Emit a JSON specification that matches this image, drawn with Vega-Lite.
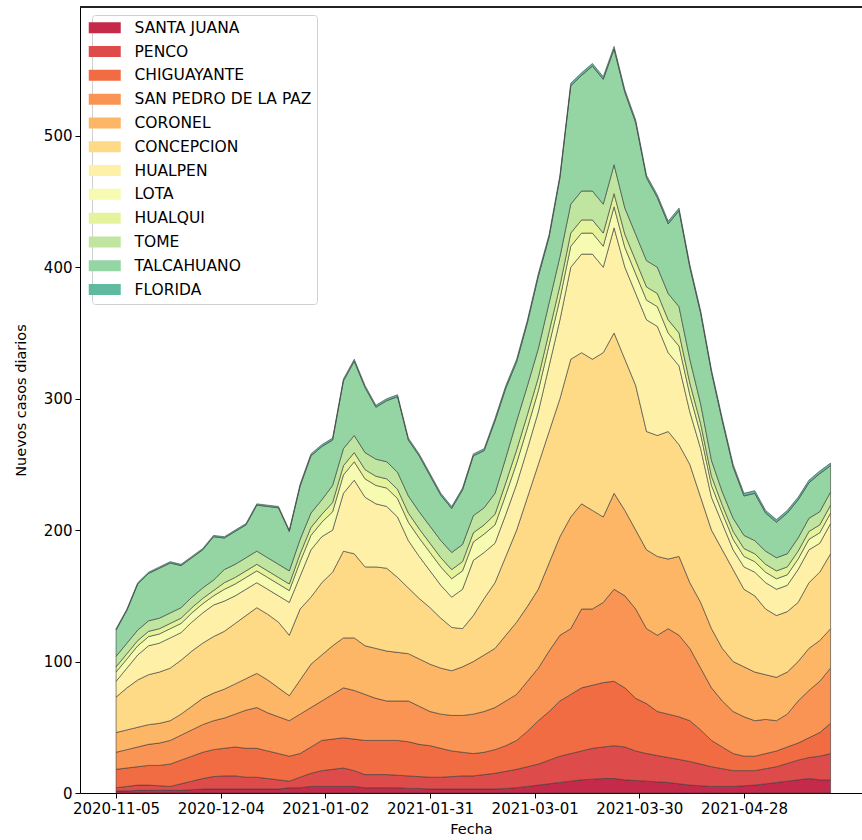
{
  "$schema": "https://vega.github.io/schema/vega-lite/v6.json",
  "width": 782,
  "height": 786,
  "autosize": {"type": "none"},
  "padding": {"left": 80, "top": 7, "right": 0, "bottom": 47},
  "background": "white",
  "config": {
    "font": "DejaVu Sans",
    "view": {"stroke": null},
    "axis": {"domainColor": "#000", "domainWidth": 1, "tickColor": "#000", "tickSize": 5, "tickWidth": 1, "labelColor": "#000", "labelFontSize": 15, "titleFontSize": 14.5, "titleFontWeight": "normal", "titleColor": "#000", "grid": false, "labelFont": "DejaVu Sans", "titleFont": "DejaVu Sans"}
  },
  "datasets": {
    "orden": [
      {"comuna": "SANTA JUANA", "orden": 1}, {"comuna": "PENCO", "orden": 2}, {"comuna": "CHIGUAYANTE", "orden": 3},
      {"comuna": "SAN PEDRO DE LA PAZ", "orden": 4}, {"comuna": "CORONEL", "orden": 5}, {"comuna": "CONCEPCION", "orden": 6},
      {"comuna": "HUALPEN", "orden": 7}, {"comuna": "LOTA", "orden": 8}, {"comuna": "HUALQUI", "orden": 9},
      {"comuna": "TOME", "orden": 10}, {"comuna": "TALCAHUANO", "orden": 11}, {"comuna": "FLORIDA", "orden": 12}
    ]
  },
  "data": {"values": [
    {"fecha":"2020-11-05","SANTA JUANA":1.5,"PENCO":2.5,"CHIGUAYANTE":14,"SAN PEDRO DE LA PAZ":13,"CORONEL":15,"CONCEPCION":27,"HUALPEN":12,"LOTA":7,"HUALQUI":4,"TOME":8,"TALCAHUANO":20,"FLORIDA":1},
    {"fecha":"2020-11-08","SANTA JUANA":1.5,"PENCO":3.5,"CHIGUAYANTE":14,"SAN PEDRO DE LA PAZ":14,"CORONEL":15,"CONCEPCION":32,"HUALPEN":15,"LOTA":7,"HUALQUI":4,"TOME":8,"TALCAHUANO":25,"FLORIDA":1},
    {"fecha":"2020-11-11","SANTA JUANA":2,"PENCO":4,"CHIGUAYANTE":14,"SAN PEDRO DE LA PAZ":15,"CORONEL":15,"CONCEPCION":36,"HUALPEN":19,"LOTA":7,"HUALQUI":4,"TOME":8,"TALCAHUANO":35,"FLORIDA":1},
    {"fecha":"2020-11-14","SANTA JUANA":2,"PENCO":4,"CHIGUAYANTE":15,"SAN PEDRO DE LA PAZ":16,"CORONEL":15,"CONCEPCION":38,"HUALPEN":22,"LOTA":7,"HUALQUI":4,"TOME":8,"TALCAHUANO":36,"FLORIDA":1},
    {"fecha":"2020-11-17","SANTA JUANA":2,"PENCO":3.5,"CHIGUAYANTE":15.5,"SAN PEDRO DE LA PAZ":17,"CORONEL":15,"CONCEPCION":39,"HUALPEN":22,"LOTA":7,"HUALQUI":4,"TOME":8,"TALCAHUANO":38,"FLORIDA":1},
    {"fecha":"2020-11-20","SANTA JUANA":2,"PENCO":3,"CHIGUAYANTE":17,"SAN PEDRO DE LA PAZ":18,"CORONEL":15,"CONCEPCION":40,"HUALPEN":23,"LOTA":7,"HUALQUI":4,"TOME":8,"TALCAHUANO":38,"FLORIDA":1},
    {"fecha":"2020-11-23","SANTA JUANA":2,"PENCO":5,"CHIGUAYANTE":18,"SAN PEDRO DE LA PAZ":19,"CORONEL":16,"CONCEPCION":41,"HUALPEN":21,"LOTA":7,"HUALQUI":4,"TOME":8,"TALCAHUANO":32,"FLORIDA":1},
    {"fecha":"2020-11-26","SANTA JUANA":2.5,"PENCO":6.5,"CHIGUAYANTE":19,"SAN PEDRO DE LA PAZ":20,"CORONEL":18,"CONCEPCION":42,"HUALPEN":22,"LOTA":7,"HUALQUI":4,"TOME":8,"TALCAHUANO":30,"FLORIDA":1},
    {"fecha":"2020-11-29","SANTA JUANA":3,"PENCO":8,"CHIGUAYANTE":20,"SAN PEDRO DE LA PAZ":21,"CORONEL":20,"CONCEPCION":42,"HUALPEN":23,"LOTA":7,"HUALQUI":4,"TOME":8,"TALCAHUANO":29,"FLORIDA":1},
    {"fecha":"2020-12-02","SANTA JUANA":3,"PENCO":9.5,"CHIGUAYANTE":20.5,"SAN PEDRO DE LA PAZ":22,"CORONEL":21,"CONCEPCION":43,"HUALPEN":24,"LOTA":7,"HUALQUI":4,"TOME":8,"TALCAHUANO":33,"FLORIDA":1},
    {"fecha":"2020-12-05","SANTA JUANA":3,"PENCO":10,"CHIGUAYANTE":21,"SAN PEDRO DE LA PAZ":23,"CORONEL":22,"CONCEPCION":44,"HUALPEN":23,"LOTA":9,"HUALQUI":5,"TOME":10,"TALCAHUANO":24,"FLORIDA":1},
    {"fecha":"2020-12-08","SANTA JUANA":3,"PENCO":10,"CHIGUAYANTE":22,"SAN PEDRO DE LA PAZ":25,"CORONEL":23,"CONCEPCION":46,"HUALPEN":21,"LOTA":9,"HUALQUI":5,"TOME":10,"TALCAHUANO":25,"FLORIDA":1},
    {"fecha":"2020-12-11","SANTA JUANA":3,"PENCO":9,"CHIGUAYANTE":22,"SAN PEDRO DE LA PAZ":29,"CORONEL":24,"CONCEPCION":48,"HUALPEN":20,"LOTA":9,"HUALQUI":5,"TOME":10,"TALCAHUANO":25,"FLORIDA":1},
    {"fecha":"2020-12-14","SANTA JUANA":3,"PENCO":9,"CHIGUAYANTE":22,"SAN PEDRO DE LA PAZ":31,"CORONEL":26,"CONCEPCION":50,"HUALPEN":19,"LOTA":9,"HUALQUI":5,"TOME":10,"TALCAHUANO":35,"FLORIDA":1},
    {"fecha":"2020-12-17","SANTA JUANA":3,"PENCO":8,"CHIGUAYANTE":21,"SAN PEDRO DE LA PAZ":29,"CORONEL":25,"CONCEPCION":50,"HUALPEN":19,"LOTA":9,"HUALQUI":5,"TOME":10,"TALCAHUANO":39,"FLORIDA":1},
    {"fecha":"2020-12-20","SANTA JUANA":3,"PENCO":7,"CHIGUAYANTE":20,"SAN PEDRO DE LA PAZ":28,"CORONEL":22,"CONCEPCION":50,"HUALPEN":20,"LOTA":9,"HUALQUI":5,"TOME":10,"TALCAHUANO":43,"FLORIDA":1},
    {"fecha":"2020-12-23","SANTA JUANA":4,"PENCO":5,"CHIGUAYANTE":19,"SAN PEDRO DE LA PAZ":27,"CORONEL":19,"CONCEPCION":46,"HUALPEN":25,"LOTA":9,"HUALQUI":5,"TOME":10,"TALCAHUANO":30,"FLORIDA":1},
    {"fecha":"2020-12-26","SANTA JUANA":4,"PENCO":8,"CHIGUAYANTE":18,"SAN PEDRO DE LA PAZ":30,"CORONEL":26,"CONCEPCION":54,"HUALPEN":25,"LOTA":11,"HUALQUI":6,"TOME":11,"TALCAHUANO":40.5,"FLORIDA":1.5},
    {"fecha":"2020-12-29","SANTA JUANA":5,"PENCO":10,"CHIGUAYANTE":20,"SAN PEDRO DE LA PAZ":30,"CORONEL":33,"CONCEPCION":51,"HUALPEN":36,"LOTA":11,"HUALQUI":6,"TOME":11,"TALCAHUANO":43.5,"FLORIDA":1.5},
    {"fecha":"2021-01-01","SANTA JUANA":5,"PENCO":12,"CHIGUAYANTE":23,"SAN PEDRO DE LA PAZ":30,"CORONEL":35,"CONCEPCION":55,"HUALPEN":35,"LOTA":11,"HUALQUI":6,"TOME":11,"TALCAHUANO":40.5,"FLORIDA":1.5},
    {"fecha":"2021-01-04","SANTA JUANA":5,"PENCO":13,"CHIGUAYANTE":23,"SAN PEDRO DE LA PAZ":34,"CORONEL":37,"CONCEPCION":56,"HUALPEN":32,"LOTA":14,"HUALQUI":7,"TOME":13,"TALCAHUANO":34.5,"FLORIDA":1.5},
    {"fecha":"2021-01-07","SANTA JUANA":5,"PENCO":14,"CHIGUAYANTE":23,"SAN PEDRO DE LA PAZ":38,"CORONEL":38,"CONCEPCION":66,"HUALPEN":44,"LOTA":14,"HUALQUI":7,"TOME":13,"TALCAHUANO":51.5,"FLORIDA":1.5},
    {"fecha":"2021-01-10","SANTA JUANA":5,"PENCO":12,"CHIGUAYANTE":24,"SAN PEDRO DE LA PAZ":37,"CORONEL":40,"CONCEPCION":64,"HUALPEN":56,"LOTA":14,"HUALQUI":7,"TOME":13,"TALCAHUANO":56.5,"FLORIDA":1.5},
    {"fecha":"2021-01-13","SANTA JUANA":4,"PENCO":10,"CHIGUAYANTE":26,"SAN PEDRO DE LA PAZ":35,"CORONEL":37,"CONCEPCION":60,"HUALPEN":53,"LOTA":14,"HUALQUI":7,"TOME":13,"TALCAHUANO":49.5,"FLORIDA":1.5},
    {"fecha":"2021-01-16","SANTA JUANA":4,"PENCO":10,"CHIGUAYANTE":26,"SAN PEDRO DE LA PAZ":32,"CORONEL":38,"CONCEPCION":62,"HUALPEN":48,"LOTA":14,"HUALQUI":7,"TOME":13,"TALCAHUANO":39.5,"FLORIDA":1.5},
    {"fecha":"2021-01-19","SANTA JUANA":4,"PENCO":10,"CHIGUAYANTE":26,"SAN PEDRO DE LA PAZ":30,"CORONEL":38,"CONCEPCION":63,"HUALPEN":47,"LOTA":14,"HUALQUI":7,"TOME":13,"TALCAHUANO":46.5,"FLORIDA":1.5},
    {"fecha":"2021-01-22","SANTA JUANA":4,"PENCO":9.5,"CHIGUAYANTE":26.5,"SAN PEDRO DE LA PAZ":30,"CORONEL":37,"CONCEPCION":57,"HUALPEN":46,"LOTA":14,"HUALQUI":7,"TOME":13,"TALCAHUANO":57.5,"FLORIDA":1.5},
    {"fecha":"2021-01-25","SANTA JUANA":3.5,"PENCO":9.5,"CHIGUAYANTE":26,"SAN PEDRO DE LA PAZ":31,"CORONEL":36,"CONCEPCION":50,"HUALPEN":36,"LOTA":14,"HUALQUI":7,"TOME":13,"TALCAHUANO":42.5,"FLORIDA":1.5},
    {"fecha":"2021-01-28","SANTA JUANA":3.5,"PENCO":9,"CHIGUAYANTE":24.5,"SAN PEDRO DE LA PAZ":29,"CORONEL":36,"CONCEPCION":46,"HUALPEN":32,"LOTA":14,"HUALQUI":7,"TOME":13,"TALCAHUANO":42.5,"FLORIDA":1.5},
    {"fecha":"2021-01-31","SANTA JUANA":3,"PENCO":9,"CHIGUAYANTE":24,"SAN PEDRO DE LA PAZ":26,"CORONEL":36,"CONCEPCION":43,"HUALPEN":28,"LOTA":14,"HUALQUI":7,"TOME":13,"TALCAHUANO":38.5,"FLORIDA":1.5},
    {"fecha":"2021-02-03","SANTA JUANA":3,"PENCO":9,"CHIGUAYANTE":22,"SAN PEDRO DE LA PAZ":26,"CORONEL":35,"CONCEPCION":38,"HUALPEN":25,"LOTA":14,"HUALQUI":7,"TOME":13,"TALCAHUANO":34.5,"FLORIDA":1.5},
    {"fecha":"2021-02-06","SANTA JUANA":3,"PENCO":9.5,"CHIGUAYANTE":19.5,"SAN PEDRO DE LA PAZ":27,"CORONEL":34,"CONCEPCION":33,"HUALPEN":23,"LOTA":14,"HUALQUI":7,"TOME":13,"TALCAHUANO":33.5,"FLORIDA":1.5},
    {"fecha":"2021-02-09","SANTA JUANA":3,"PENCO":10,"CHIGUAYANTE":18,"SAN PEDRO DE LA PAZ":28,"CORONEL":37,"CONCEPCION":29,"HUALPEN":30,"LOTA":14,"HUALQUI":7,"TOME":13,"TALCAHUANO":41.5,"FLORIDA":1.5},
    {"fecha":"2021-02-12","SANTA JUANA":3,"PENCO":10,"CHIGUAYANTE":17,"SAN PEDRO DE LA PAZ":30,"CORONEL":40,"CONCEPCION":35,"HUALPEN":42,"LOTA":14,"HUALQUI":7,"TOME":13,"TALCAHUANO":45.5,"FLORIDA":1.5},
    {"fecha":"2021-02-15","SANTA JUANA":3,"PENCO":11,"CHIGUAYANTE":17,"SAN PEDRO DE LA PAZ":31,"CORONEL":43,"CONCEPCION":43,"HUALPEN":35,"LOTA":14,"HUALQUI":7,"TOME":13,"TALCAHUANO":43.5,"FLORIDA":1.5},
    {"fecha":"2021-02-18","SANTA JUANA":3,"PENCO":12,"CHIGUAYANTE":18,"SAN PEDRO DE LA PAZ":32,"CORONEL":45,"CONCEPCION":50,"HUALPEN":30,"LOTA":14,"HUALQUI":8,"TOME":16,"TALCAHUANO":55,"FLORIDA":2},
    {"fecha":"2021-02-21","SANTA JUANA":3.5,"PENCO":13,"CHIGUAYANTE":19.5,"SAN PEDRO DE LA PAZ":34,"CORONEL":50,"CONCEPCION":60,"HUALPEN":32,"LOTA":15,"HUALQUI":9,"TOME":19,"TALCAHUANO":53,"FLORIDA":2},
    {"fecha":"2021-02-24","SANTA JUANA":4,"PENCO":14,"CHIGUAYANTE":22,"SAN PEDRO DE LA PAZ":35,"CORONEL":55,"CONCEPCION":70,"HUALPEN":35,"LOTA":16,"HUALQUI":10,"TOME":22,"TALCAHUANO":45,"FLORIDA":2},
    {"fecha":"2021-02-27","SANTA JUANA":5,"PENCO":15,"CHIGUAYANTE":27,"SAN PEDRO DE LA PAZ":38,"CORONEL":57,"CONCEPCION":83,"HUALPEN":37,"LOTA":16,"HUALQUI":10,"TOME":22,"TALCAHUANO":48,"FLORIDA":2},
    {"fecha":"2021-03-02","SANTA JUANA":6,"PENCO":16,"CHIGUAYANTE":33,"SAN PEDRO DE LA PAZ":40,"CORONEL":60,"CONCEPCION":95,"HUALPEN":40,"LOTA":16,"HUALQUI":10,"TOME":22,"TALCAHUANO":55,"FLORIDA":2},
    {"fecha":"2021-03-05","SANTA JUANA":7,"PENCO":18,"CHIGUAYANTE":37,"SAN PEDRO DE LA PAZ":46,"CORONEL":67,"CONCEPCION":100,"HUALPEN":50,"LOTA":16,"HUALQUI":10,"TOME":22,"TALCAHUANO":50,"FLORIDA":2},
    {"fecha":"2021-03-08","SANTA JUANA":8,"PENCO":20,"CHIGUAYANTE":42,"SAN PEDRO DE LA PAZ":50,"CORONEL":75,"CONCEPCION":105,"HUALPEN":60,"LOTA":16,"HUALQUI":10,"TOME":22,"TALCAHUANO":60,"FLORIDA":2},
    {"fecha":"2021-03-11","SANTA JUANA":9,"PENCO":21,"CHIGUAYANTE":45,"SAN PEDRO DE LA PAZ":50,"CORONEL":85,"CONCEPCION":120,"HUALPEN":70,"LOTA":16,"HUALQUI":10,"TOME":22,"TALCAHUANO":90,"FLORIDA":2},
    {"fecha":"2021-03-14","SANTA JUANA":10,"PENCO":22,"CHIGUAYANTE":48,"SAN PEDRO DE LA PAZ":60,"CORONEL":80,"CONCEPCION":115,"HUALPEN":75,"LOTA":16,"HUALQUI":10,"TOME":22,"TALCAHUANO":88,"FLORIDA":2},
    {"fecha":"2021-03-17","SANTA JUANA":10.5,"PENCO":23.5,"CHIGUAYANTE":48,"SAN PEDRO DE LA PAZ":58,"CORONEL":75,"CONCEPCION":115,"HUALPEN":80,"LOTA":16,"HUALQUI":10,"TOME":22,"TALCAHUANO":95,"FLORIDA":2},
    {"fecha":"2021-03-20","SANTA JUANA":11,"PENCO":24,"CHIGUAYANTE":49,"SAN PEDRO DE LA PAZ":61,"CORONEL":65,"CONCEPCION":125,"HUALPEN":65,"LOTA":16,"HUALQUI":10,"TOME":22,"TALCAHUANO":95,"FLORIDA":2},
    {"fecha":"2021-03-23","SANTA JUANA":11,"PENCO":25,"CHIGUAYANTE":49,"SAN PEDRO DE LA PAZ":70,"CORONEL":73,"CONCEPCION":122,"HUALPEN":80,"LOTA":16,"HUALQUI":10,"TOME":22,"TALCAHUANO":88,"FLORIDA":2},
    {"fecha":"2021-03-26","SANTA JUANA":10,"PENCO":25,"CHIGUAYANTE":45,"SAN PEDRO DE LA PAZ":70,"CORONEL":65,"CONCEPCION":115,"HUALPEN":70,"LOTA":15,"HUALQUI":10,"TOME":20,"TALCAHUANO":88,"FLORIDA":2},
    {"fecha":"2021-03-29","SANTA JUANA":9.5,"PENCO":22.5,"CHIGUAYANTE":40,"SAN PEDRO DE LA PAZ":68,"CORONEL":60,"CONCEPCION":110,"HUALPEN":70,"LOTA":15,"HUALQUI":10,"TOME":20,"TALCAHUANO":85,"FLORIDA":2},
    {"fecha":"2021-04-01","SANTA JUANA":9,"PENCO":21,"CHIGUAYANTE":38,"SAN PEDRO DE LA PAZ":57,"CORONEL":60,"CONCEPCION":90,"HUALPEN":85,"LOTA":15,"HUALQUI":10,"TOME":20,"TALCAHUANO":63,"FLORIDA":2},
    {"fecha":"2021-04-04","SANTA JUANA":8.5,"PENCO":20,"CHIGUAYANTE":33.5,"SAN PEDRO DE LA PAZ":58,"CORONEL":60,"CONCEPCION":92,"HUALPEN":83,"LOTA":15,"HUALQUI":10,"TOME":20,"TALCAHUANO":53,"FLORIDA":2},
    {"fecha":"2021-04-07","SANTA JUANA":8,"PENCO":19,"CHIGUAYANTE":33,"SAN PEDRO DE LA PAZ":65,"CORONEL":53,"CONCEPCION":97,"HUALPEN":60,"LOTA":15,"HUALQUI":10,"TOME":20,"TALCAHUANO":53,"FLORIDA":2},
    {"fecha":"2021-04-10","SANTA JUANA":7,"PENCO":18.5,"CHIGUAYANTE":32.5,"SAN PEDRO DE LA PAZ":62,"CORONEL":60,"CONCEPCION":85,"HUALPEN":60,"LOTA":15,"HUALQUI":10,"TOME":20,"TALCAHUANO":73,"FLORIDA":2},
    {"fecha":"2021-04-13","SANTA JUANA":6,"PENCO":18,"CHIGUAYANTE":31,"SAN PEDRO DE LA PAZ":55,"CORONEL":50,"CONCEPCION":90,"HUALPEN":40,"LOTA":13,"HUALQUI":9,"TOME":18,"TALCAHUANO":70,"FLORIDA":2},
    {"fecha":"2021-04-16","SANTA JUANA":5.5,"PENCO":16.5,"CHIGUAYANTE":26,"SAN PEDRO DE LA PAZ":47,"CORONEL":50,"CONCEPCION":80,"HUALPEN":37,"LOTA":11,"HUALQUI":8,"TOME":15,"TALCAHUANO":69,"FLORIDA":2},
    {"fecha":"2021-04-19","SANTA JUANA":5,"PENCO":15,"CHIGUAYANTE":20,"SAN PEDRO DE LA PAZ":40,"CORONEL":45,"CONCEPCION":75,"HUALPEN":25,"LOTA":9,"HUALQUI":7,"TOME":12,"TALCAHUANO":67,"FLORIDA":2},
    {"fecha":"2021-04-22","SANTA JUANA":5,"PENCO":13.5,"CHIGUAYANTE":16.5,"SAN PEDRO DE LA PAZ":35,"CORONEL":40,"CONCEPCION":75,"HUALPEN":20,"LOTA":8,"HUALQUI":6,"TOME":10,"TALCAHUANO":54,"FLORIDA":2},
    {"fecha":"2021-04-25","SANTA JUANA":5,"PENCO":12,"CHIGUAYANTE":13,"SAN PEDRO DE LA PAZ":32,"CORONEL":38,"CONCEPCION":70,"HUALPEN":15,"LOTA":8,"HUALQUI":6,"TOME":10,"TALCAHUANO":39,"FLORIDA":2},
    {"fecha":"2021-04-28","SANTA JUANA":5.5,"PENCO":11.5,"CHIGUAYANTE":11,"SAN PEDRO DE LA PAZ":30,"CORONEL":38,"CONCEPCION":59,"HUALPEN":17,"LOTA":8,"HUALQUI":6,"TOME":10,"TALCAHUANO":30,"FLORIDA":2},
    {"fecha":"2021-05-01","SANTA JUANA":6,"PENCO":11,"CHIGUAYANTE":11,"SAN PEDRO DE LA PAZ":27,"CORONEL":37,"CONCEPCION":58,"HUALPEN":18,"LOTA":8,"HUALQUI":6,"TOME":10,"TALCAHUANO":36,"FLORIDA":2},
    {"fecha":"2021-05-04","SANTA JUANA":7,"PENCO":11.5,"CHIGUAYANTE":11.5,"SAN PEDRO DE LA PAZ":26,"CORONEL":34,"CONCEPCION":50,"HUALPEN":20,"LOTA":8,"HUALQUI":6,"TOME":10,"TALCAHUANO":29,"FLORIDA":2},
    {"fecha":"2021-05-07","SANTA JUANA":8,"PENCO":12,"CHIGUAYANTE":12,"SAN PEDRO DE LA PAZ":23,"CORONEL":33,"CONCEPCION":47,"HUALPEN":20,"LOTA":8,"HUALQUI":6,"TOME":10,"TALCAHUANO":27,"FLORIDA":2},
    {"fecha":"2021-05-10","SANTA JUANA":9,"PENCO":13.5,"CHIGUAYANTE":12.5,"SAN PEDRO DE LA PAZ":25,"CORONEL":32,"CONCEPCION":46,"HUALPEN":20,"LOTA":8,"HUALQUI":6,"TOME":10,"TALCAHUANO":31,"FLORIDA":2},
    {"fecha":"2021-05-13","SANTA JUANA":10,"PENCO":15,"CHIGUAYANTE":13,"SAN PEDRO DE LA PAZ":32,"CORONEL":30,"CONCEPCION":45,"HUALPEN":25,"LOTA":8,"HUALQUI":6,"TOME":10,"TALCAHUANO":29,"FLORIDA":2},
    {"fecha":"2021-05-16","SANTA JUANA":11,"PENCO":16,"CHIGUAYANTE":15,"SAN PEDRO DE LA PAZ":36,"CORONEL":32,"CONCEPCION":50,"HUALPEN":25,"LOTA":8,"HUALQUI":6,"TOME":10,"TALCAHUANO":27,"FLORIDA":2},
    {"fecha":"2021-05-19","SANTA JUANA":10,"PENCO":18,"CHIGUAYANTE":18,"SAN PEDRO DE LA PAZ":39,"CORONEL":31,"CONCEPCION":52,"HUALPEN":22,"LOTA":8,"HUALQUI":6,"TOME":10,"TALCAHUANO":29,"FLORIDA":2},
    {"fecha":"2021-05-22","SANTA JUANA":10,"PENCO":20,"CHIGUAYANTE":23,"SAN PEDRO DE LA PAZ":42,"CORONEL":30,"CONCEPCION":57,"HUALPEN":23,"LOTA":8,"HUALQUI":6,"TOME":10,"TALCAHUANO":20,"FLORIDA":2}
  ]},
  "layer": [
    {
      "transform": [
        {"fold": ["SANTA JUANA","PENCO","CHIGUAYANTE","SAN PEDRO DE LA PAZ","CORONEL","CONCEPCION","HUALPEN","LOTA","HUALQUI","TOME","TALCAHUANO","FLORIDA"], "as": ["comuna","casos"]},
        {"lookup": "comuna", "from": {"data": {"name": "orden"}, "key": "comuna", "fields": ["orden"]}}
      ],
      "mark": {"type": "area", "stroke": "#3a3a3a", "strokeWidth": 0.8, "strokeOpacity": 0.75, "interpolate": "linear"},
      "encoding": {
        "x": {"field": "fecha", "type": "temporal",
          "scale": {"type": "utc", "domain": [{"year": 2020, "month": 10, "date": 26, "utc": true}, {"year": 2021, "month": 5, "date": 30, "hours": 17, "utc": true}]},
          "axis": {"title": "Fecha", "format": "%Y-%m-%d", "labelPadding": 3, "titlePadding": 6, "labelFlush": false, "labelOverlap": false,
            "values": [{"year": 2020, "month": 11, "date": 5, "utc": true}, {"year": 2020, "month": 12, "date": 4, "utc": true}, {"year": 2021, "month": 1, "date": 2, "utc": true}, {"year": 2021, "month": 1, "date": 31, "utc": true}, {"year": 2021, "month": 3, "date": 1, "utc": true}, {"year": 2021, "month": 3, "date": 30, "utc": true}, {"year": 2021, "month": 4, "date": 28, "utc": true}]}},
        "y": {"field": "casos", "type": "quantitative", "stack": "zero",
          "scale": {"domain": [0, 598], "nice": false, "zero": true},
          "axis": {"title": "Nuevos casos diarios", "values": [0, 100, 200, 300, 400, 500], "labelPadding": 3, "titlePadding": 15}},
        "order": {"field": "orden", "type": "quantitative", "sort": "ascending"},
        "color": {"field": "comuna", "type": "nominal",
          "sort": ["SANTA JUANA","PENCO","CHIGUAYANTE","SAN PEDRO DE LA PAZ","CORONEL","CONCEPCION","HUALPEN","LOTA","HUALQUI","TOME","TALCAHUANO","FLORIDA"],
          "scale": {"domain": ["SANTA JUANA","PENCO","CHIGUAYANTE","SAN PEDRO DE LA PAZ","CORONEL","CONCEPCION","HUALPEN","LOTA","HUALQUI","TOME","TALCAHUANO","FLORIDA"],
            "range": ["#c62a4b","#dd4b4b","#f26c43","#f99455","#fdb665","#fed986","#fef1a7","#f7fab1","#e5f49c","#bfe5a0","#95d4a3","#5fbaa0"]},
          "legend": {"title": null, "orient": "none", "legendX": 12, "legendY": 8, "symbolType": "M-2.286,-0.786H2.286V0.786H-2.286Z", "symbolSize": 196, "symbolStrokeWidth": 0, "symbolStrokeColor": "transparent", "symbolOpacity": 1, "labelFontSize": 15.5, "labelFont": "DejaVu Sans", "labelColor": "#000", "labelOffset": 22, "labelLimit": 0, "rowPadding": 6.8, "padding": 5, "strokeColor": "#d0d0d0", "fillColor": "rgba(255,255,255,0.8)", "cornerRadius": 3}}
      }
    },
    {
      "mark": {"type": "rule", "color": "#222", "strokeWidth": 1},
      "encoding": {"y": {"datum": 598, "type": "quantitative"}}
    }
  ]
}
